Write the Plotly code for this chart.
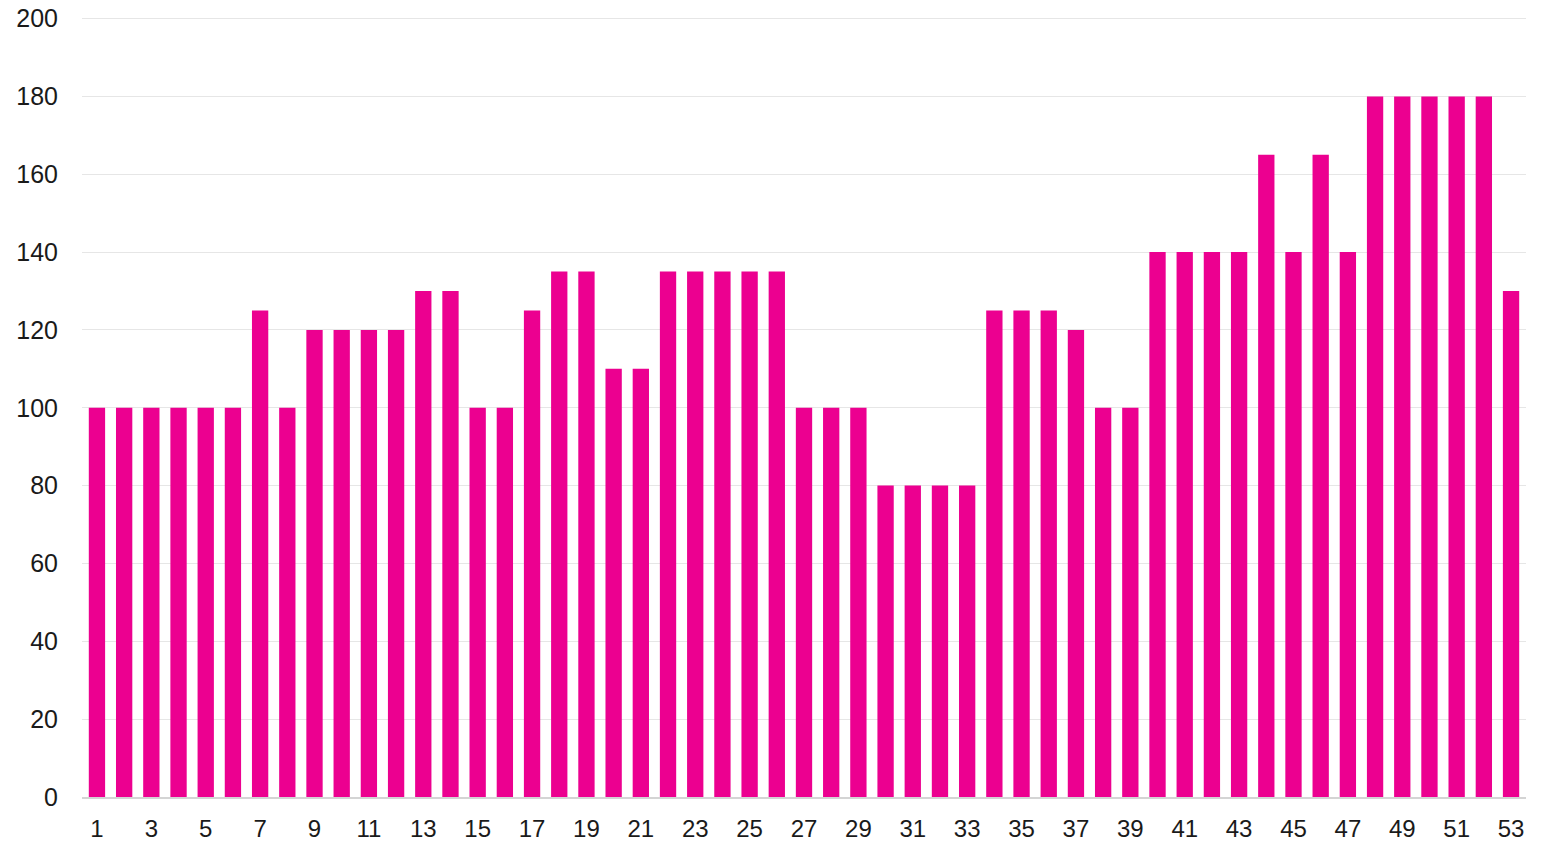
import plotly.graph_objects as go

weeks = list(range(1, 54))
values = [100, 100, 100, 100, 100, 100, 125, 100, 120, 120,
          120, 120, 130, 130, 100, 100, 125, 135, 135, 110,
          110, 135, 135, 135, 135, 135, 100, 100, 100, 80,
          80, 80, 80, 125, 125, 125, 120, 100, 100, 140,
          140, 140, 140, 165, 140, 165, 140, 180, 180, 180,
          180, 180, 130]
x_ticks = list(range(1, 54, 2))
y_ticks = list(range(0, 201, 20))

fig = go.Figure(go.Bar(x=weeks, y=values, marker_color="#EC0090", marker_line_width=0))
fig.update_layout(
    width=1559, height=844,
    margin=dict(l=82, r=33, t=17, b=47, autoexpand=False),
    paper_bgcolor="white", plot_bgcolor="white",
    bargap=0.4, showlegend=False,
    font=dict(family="Liberation Sans, Arial, sans-serif", size=25, color="#1a1a1a"),
)
fig.update_xaxes(range=[0.45, 53.55], tickvals=x_ticks, ticktext=[str(t) for t in x_ticks],
                 showgrid=False, showline=True, linecolor="#d4d4d4", linewidth=2, automargin=False,
                 ticks="outside", ticklen=9, tickcolor="rgba(0,0,0,0)", zeroline=False,
                 tickfont=dict(size=24))
fig.update_yaxes(range=[0, 200.4], tickvals=y_ticks, showgrid=True, gridcolor="#e6e6e6", gridwidth=1,
                 automargin=False, zeroline=False, ticks="outside", ticklen=18, tickcolor="rgba(0,0,0,0)")
fig.write_html("out.html", config={"displayModeBar": False},
               post_script="document.body.style.margin='0';document.body.style.padding='0';")
